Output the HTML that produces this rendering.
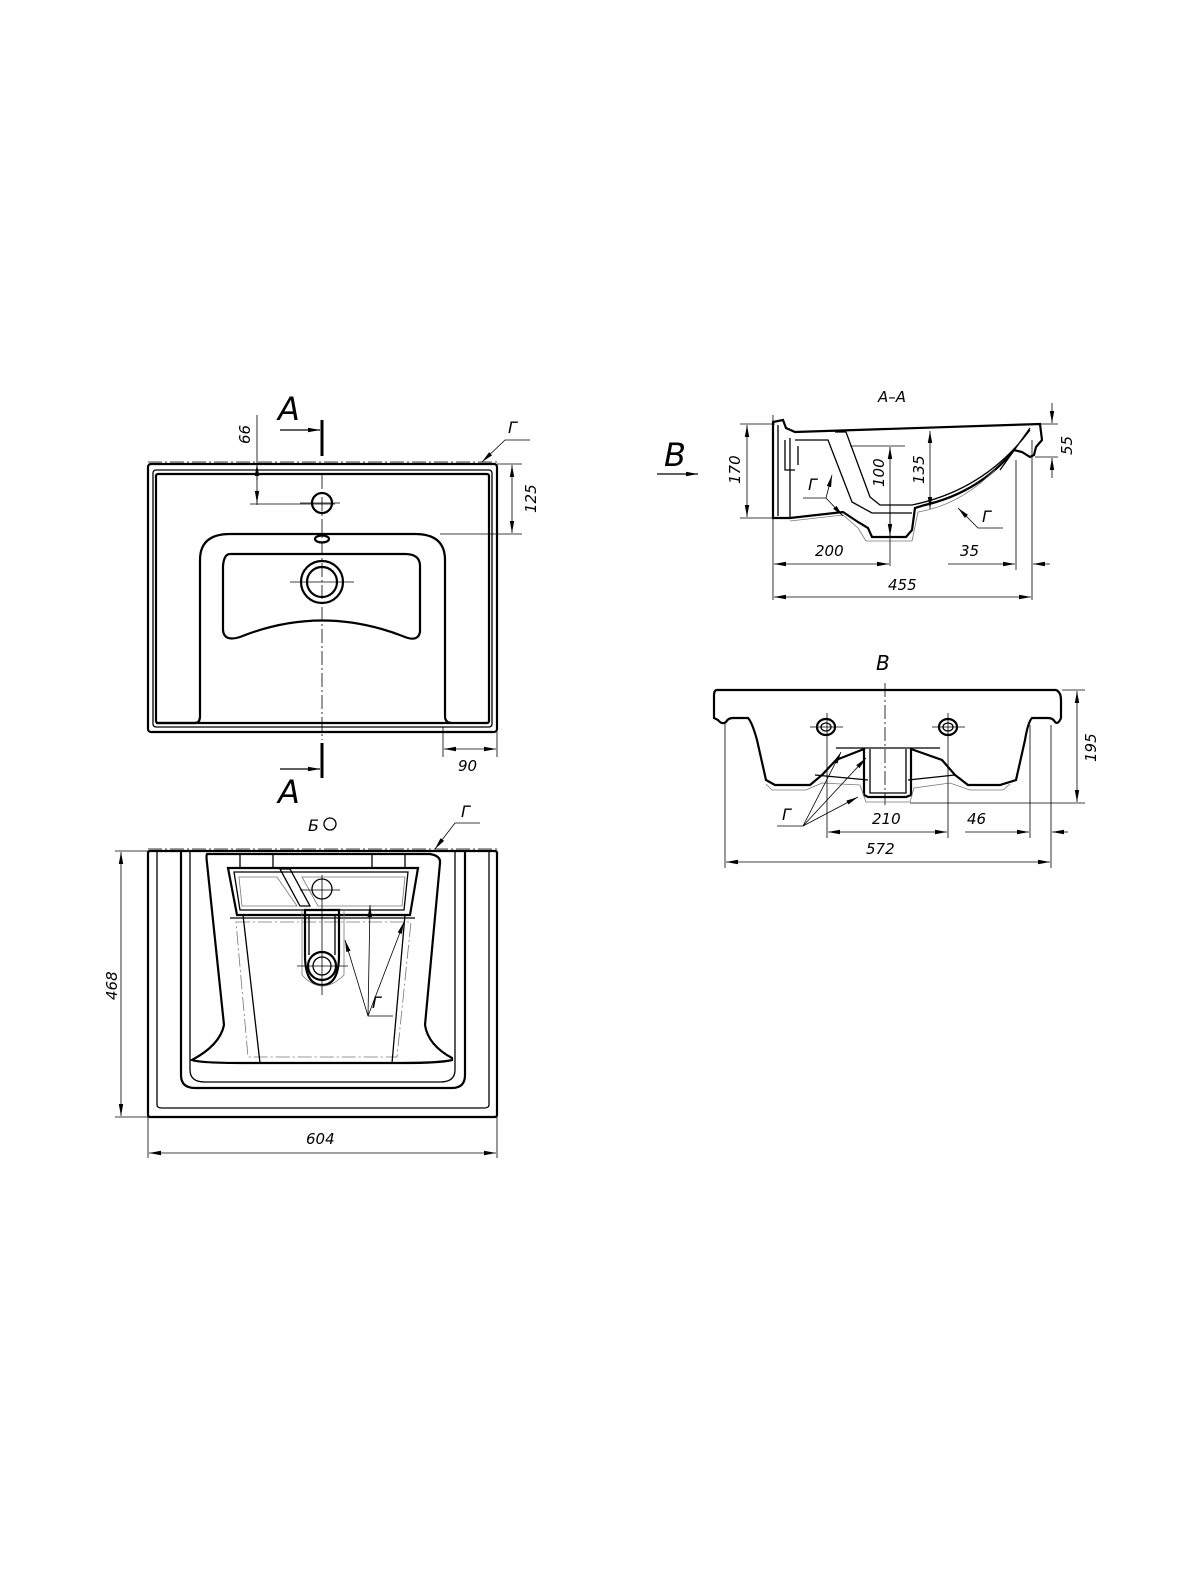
<!DOCTYPE html>
<html><head><meta charset="utf-8"><style>
html,body{margin:0;padding:0;background:#fff}
svg{display:block}
text{font-family:"DejaVu Sans","Liberation Sans",sans-serif;font-style:italic;fill:#000}
.t{stroke:#000;stroke-width:2.2;fill:none}
.m{stroke:#000;stroke-width:1.3;fill:none}
.n{stroke:#000;stroke-width:0.8;fill:none}
.c{stroke:#000;stroke-width:0.8;fill:none;stroke-dasharray:14 3 2 3}
.g{stroke:#777;stroke-width:0.8;fill:none}
</style></head><body>
<svg width="1200" height="1570" viewBox="0 0 1200 1570" xmlns="http://www.w3.org/2000/svg">
<defs>
<marker id="a" viewBox="0 0 12 6" refX="12" refY="3" markerWidth="12" markerHeight="6" orient="auto-start-reverse" markerUnits="userSpaceOnUse"><path d="M0,0.8 L12,3 L0,5.2z" fill="#000"/></marker>
</defs>

<!-- ===== TOP VIEW ===== -->
<line class="c" x1="148" y1="462" x2="497" y2="462"/>
<rect class="t" x="148" y="464" width="349" height="268" rx="3"/>
<rect class="m" x="153" y="470" width="339" height="257" rx="3"/>
<rect class="t" x="156" y="474" width="333" height="249" rx="2"/>
<path class="t" d="M156,723 L195,723 Q200,723 200,716 L200,560 Q200,534 230,534 L415,534 Q445,534 445,560 L445,716 Q445,723 452,723"/>
<path class="t" d="M230,554 L405,554 Q420,554 420,566 L420,632 Q418,642 405,637 Q322,604 240,637 Q224,642 223,630 L223,566 Q224,554 230,554Z"/>
<circle class="t" cx="322" cy="503" r="10"/>
<ellipse class="t" cx="322" cy="539" rx="7" ry="3.5"/>
<circle class="t" cx="322" cy="582" r="21"/>
<circle class="t" cx="322" cy="582" r="15"/>
<line class="c" x1="322" y1="475" x2="322" y2="740"/>
<line class="n" x1="290" y1="582" x2="354" y2="582"/>
<line class="n" x1="300" y1="503" x2="340" y2="503"/>
<line x1="322" y1="420" x2="322" y2="456" stroke="#000" stroke-width="3"/>
<line class="m" x1="280" y1="430" x2="320" y2="430" marker-end="url(#a)"/>
<text x="278" y="420" font-size="32" font-style="normal">A</text>
<line x1="322" y1="743" x2="322" y2="778" stroke="#000" stroke-width="3"/>
<line class="m" x1="280" y1="769" x2="320" y2="769" marker-end="url(#a)"/>
<text x="278" y="803" font-size="32" font-style="normal">A</text>
<line class="n" x1="257" y1="415" x2="257" y2="505"/>
<line class="n" x1="257" y1="480" x2="257" y2="464" marker-end="url(#a)"/>
<line class="n" x1="257" y1="490" x2="257" y2="503" marker-end="url(#a)"/>
<line class="n" x1="250" y1="504" x2="335" y2="504"/>
<text transform="translate(250,444) rotate(-90)" font-size="15">66</text>
<line class="n" x1="497" y1="464" x2="522" y2="464"/>
<line class="n" x1="440" y1="534" x2="522" y2="534"/>
<line class="n" x1="512" y1="465" x2="512" y2="533" marker-start="url(#a)" marker-end="url(#a)"/>
<text transform="translate(536,513) rotate(-90)" font-size="15">125</text>
<line class="n" x1="443" y1="727" x2="443" y2="757"/>
<line class="n" x1="497" y1="732" x2="497" y2="757"/>
<line class="n" x1="444" y1="749" x2="496" y2="749" marker-start="url(#a)" marker-end="url(#a)"/>
<text x="458" y="771" font-size="15">90</text>
<path class="n" d="M530,440 L505,440 L482,462" marker-end="url(#a)"/>
<text x="508" y="433" font-size="16">Г</text>

<!-- ===== SECTION A-A ===== -->
<text x="878" y="402" font-size="15">A–A</text>
<text x="664" y="466" font-size="32" font-style="normal">B</text>
<line class="m" x1="657" y1="474" x2="698" y2="474" marker-end="url(#a)"/>
<path class="t" d="M773,422 L783,420 L786,428 L795,432 L1040,424 L1042,440 L1036,447 L1034,455 L1030,457 L1022,452 L1014,450 Q980,492 925,505 L915,508 L912,530 L906,537 L872,537 L868,528 L858,522 L843,512 L790,518 L773,518 Z"/>
<path class="m" d="M790,438 L790,518 M778,425 L778,516 M795,440 L828,440 L852,502 L872,513 L912,513 M835,432 L846,432 L870,497 L880,505 L912,505 M912,505 Q985,490 1030,430 M1030,428 L1000,470 M785,440 L785,470 L795,470 M798,446 L798,465"/>
<path class="g" d="M790,521 L843,515 L858,528 L866,541 L912,541 L918,512 Q960,505 995,470"/>
<line class="n" x1="773" y1="415" x2="773" y2="600"/>
<line class="n" x1="740" y1="424" x2="775" y2="424"/>
<line class="n" x1="740" y1="518" x2="775" y2="518"/>
<line class="n" x1="747" y1="425" x2="747" y2="517" marker-start="url(#a)" marker-end="url(#a)"/>
<text transform="translate(740,484) rotate(-90)" font-size="15">170</text>
<line class="n" x1="850" y1="446" x2="905" y2="446"/>
<line class="n" x1="890" y1="447" x2="890" y2="536" marker-start="url(#a)" marker-end="url(#a)"/>
<text transform="translate(884,487) rotate(-90)" font-size="15">100</text>
<line class="n" x1="930" y1="431" x2="930" y2="509" marker-start="url(#a)" marker-end="url(#a)"/>
<text transform="translate(924,484) rotate(-90)" font-size="15">135</text>
<line class="n" x1="1040" y1="424" x2="1058" y2="424"/>
<line class="n" x1="1035" y1="457" x2="1058" y2="457"/>
<line class="n" x1="1052" y1="403" x2="1052" y2="423" marker-end="url(#a)"/>
<line class="n" x1="1052" y1="478" x2="1052" y2="458" marker-end="url(#a)"/>
<text transform="translate(1072,455) rotate(-90)" font-size="15">55</text>
<line class="n" x1="1016" y1="460" x2="1016" y2="570"/>
<line class="n" x1="1032" y1="440" x2="1032" y2="600"/>
<line class="n" x1="774" y1="564" x2="889" y2="564" marker-start="url(#a)" marker-end="url(#a)"/>
<line class="n" x1="890" y1="505" x2="890" y2="566"/>
<text x="815" y="556" font-size="15">200</text>
<line class="n" x1="948" y1="564" x2="1015" y2="564" marker-end="url(#a)"/>
<line class="n" x1="1050" y1="564" x2="1033" y2="564" marker-end="url(#a)"/>
<text x="960" y="556" font-size="15">35</text>
<line class="n" x1="774" y1="597" x2="1031" y2="597" marker-start="url(#a)" marker-end="url(#a)"/>
<text x="888" y="590" font-size="15">455</text>
<path class="n" d="M803,498 L826,498 L832,475" marker-end="url(#a)"/>
<line class="n" x1="826" y1="498" x2="843" y2="516" marker-end="url(#a)"/>
<text x="808" y="490" font-size="16">Г</text>
<path class="n" d="M1003,528 L978,528 L958,508" marker-end="url(#a)"/>
<text x="982" y="522" font-size="16">Г</text>

<!-- ===== VIEW B ===== -->
<text x="876" y="670" font-size="20">B</text>
<line class="c" x1="885" y1="683" x2="885" y2="805"/>
<path class="t" d="M717,690 L1056,690 Q1061,692 1061,700 L1061,718 Q1058,725 1055,722 Q1053,718 1048,718 L1032,718 Q1028,722 1025,740 L1016,780 L1000,785 L968,785 L955,775 L942,760 L911,749 L911,795 L906,797 L868,797 L864,795 L864,749 L836,760 L822,775 L810,785 L775,785 L766,780 L757,740 Q752,722 748,718 L733,718 Q728,718 726,722 Q722,725 718,720 L714,718 L714,696 Q714,690 717,690Z"/>
<path class="m" d="M836,748 L940,748 M864,750 L864,795 M870,749 L870,793 L906,793 L906,749"/>
<path class="m" d="M815,775 L868,780 M908,780 L955,775"/>
<path class="g" d="M766,784 L772,790 L806,790 L822,783 L860,785 L866,802 L910,802 L914,788 L950,783 L970,790 L1003,790 L1010,784"/>
<ellipse class="t" cx="826" cy="727" rx="9" ry="8"/><ellipse class="m" cx="826" cy="727" rx="5" ry="4"/>
<ellipse class="t" cx="948" cy="727" rx="9" ry="8"/><ellipse class="m" cx="948" cy="727" rx="5" ry="4"/>
<line class="n" x1="810" y1="727" x2="843" y2="727"/><line class="n" x1="932" y1="727" x2="965" y2="727"/>
<line class="n" x1="827" y1="713" x2="827" y2="838"/>
<line class="n" x1="948" y1="713" x2="948" y2="838"/>
<line class="n" x1="725" y1="722" x2="725" y2="868"/>
<line class="n" x1="1030" y1="725" x2="1030" y2="838"/>
<line class="n" x1="1051" y1="725" x2="1051" y2="868"/>
<line class="n" x1="1062" y1="690" x2="1085" y2="690"/>
<line class="n" x1="910" y1="803" x2="1085" y2="803"/>
<line class="n" x1="1077" y1="691" x2="1077" y2="802" marker-start="url(#a)" marker-end="url(#a)"/>
<text transform="translate(1096,762) rotate(-90)" font-size="15">195</text>
<line class="n" x1="828" y1="832" x2="947" y2="832" marker-start="url(#a)" marker-end="url(#a)"/>
<text x="872" y="824" font-size="15">210</text>
<line class="n" x1="965" y1="832" x2="1029" y2="832" marker-end="url(#a)"/>
<line class="n" x1="1068" y1="832" x2="1052" y2="832" marker-end="url(#a)"/>
<text x="967" y="824" font-size="15">46</text>
<line class="n" x1="726" y1="862" x2="1050" y2="862" marker-start="url(#a)" marker-end="url(#a)"/>
<text x="866" y="854" font-size="15">572</text>
<path class="n" d="M777,826 L803,826 L841,752" marker-end="url(#a)"/>
<line class="n" x1="803" y1="826" x2="866" y2="758" marker-end="url(#a)"/>
<line class="n" x1="803" y1="826" x2="858" y2="797" marker-end="url(#a)"/>
<text x="782" y="820" font-size="16">Г</text>

<!-- ===== BOTTOM VIEW ===== -->
<text x="308" y="831" font-size="16">Б</text>
<circle class="m" cx="330" cy="824" r="6"/>
<line class="c" x1="148" y1="849" x2="497" y2="849"/>
<path class="n" d="M480,823 L455,823 L435,849" marker-end="url(#a)"/>
<text x="461" y="817" font-size="16">Г</text>
<rect class="t" x="148" y="851" width="349" height="266" rx="2"/>
<path class="m" d="M157,851 L157,1105 Q157,1108 162,1108 L484,1108 Q489,1108 489,1105 L489,851"/>
<path class="t" d="M181,851 L181,1075 Q181,1088 195,1088 L452,1088 Q465,1088 465,1075 L465,851"/>
<path class="m" d="M190,851 L190,1070 Q190,1082 205,1082 L440,1082 Q455,1082 455,1070 L455,851"/>
<path class="t" d="M207,854 L430,854 Q441,856 440,863 L425,1025 Q428,1045 452,1058 L452,1060 Q440,1063 402,1063 L400,1063 L243,1063 L243,1063 Q200,1063 192,1060 Q220,1045 224,1025 L207,863 Q206,856 207,854Z"/>
<path class="m" d="M240,854 L240,868 M273,854 L273,868 M372,854 L372,868 M405,854 L405,868"/>
<path class="t" d="M228,868 L418,868 L410,915 L237,915Z"/>
<path class="m" d="M234,872 L408,872 L404,910 L240,910Z"/>
<path class="g" d="M239,877 L277,877 L297,906 L242,906Z M302,877 L405,877 L402,906 L318,906Z"/>
<path class="m" d="M280,869 L290,869 L310,906 L300,906Z"/>
<line class="m" x1="230" y1="918" x2="415" y2="918"/>
<path class="g" d="M236,922 L411,922 L397,1057 L248,1057Z" stroke-dasharray="14 3 2 3"/>
<path class="m" d="M243,915 L260,1063 M405,915 L392,1063"/>
<path class="t" d="M305,910 L339,910 L339,955 Q339,985 322,985 Q305,985 305,955Z"/>
<path class="m" d="M309,914 L309,955 M335,914 L335,955"/>
<circle class="t" cx="322" cy="966" r="14"/><circle class="m" cx="322" cy="966" r="9"/>
<path class="g" d="M302,910 L302,975 Q322,997 344,975 L344,910"/>
<line class="n" x1="322" y1="875" x2="322" y2="995"/><line class="n" x1="297" y1="966" x2="348" y2="966"/>
<line class="n" x1="300" y1="890" x2="340" y2="890"/><circle class="m" cx="322" cy="889" r="10"/>
<path class="n" d="M393,1016 L368,1016 L345,940" marker-end="url(#a)"/>
<line class="n" x1="368" y1="1016" x2="370" y2="905" marker-end="url(#a)"/>
<line class="n" x1="368" y1="1016" x2="404" y2="922" marker-end="url(#a)"/>
<text x="372" y="1008" font-size="16">Г</text>
<line class="n" x1="115" y1="851" x2="148" y2="851"/>
<line class="n" x1="115" y1="1117" x2="148" y2="1117"/>
<line class="n" x1="121" y1="852" x2="121" y2="1116" marker-start="url(#a)" marker-end="url(#a)"/>
<text transform="translate(117,1000) rotate(-90)" font-size="15">468</text>
<line class="n" x1="148" y1="1117" x2="148" y2="1158"/>
<line class="n" x1="497" y1="1117" x2="497" y2="1158"/>
<line class="n" x1="149" y1="1153" x2="496" y2="1153" marker-start="url(#a)" marker-end="url(#a)"/>
<text x="306" y="1144" font-size="15">604</text>
</svg>
</body></html>
